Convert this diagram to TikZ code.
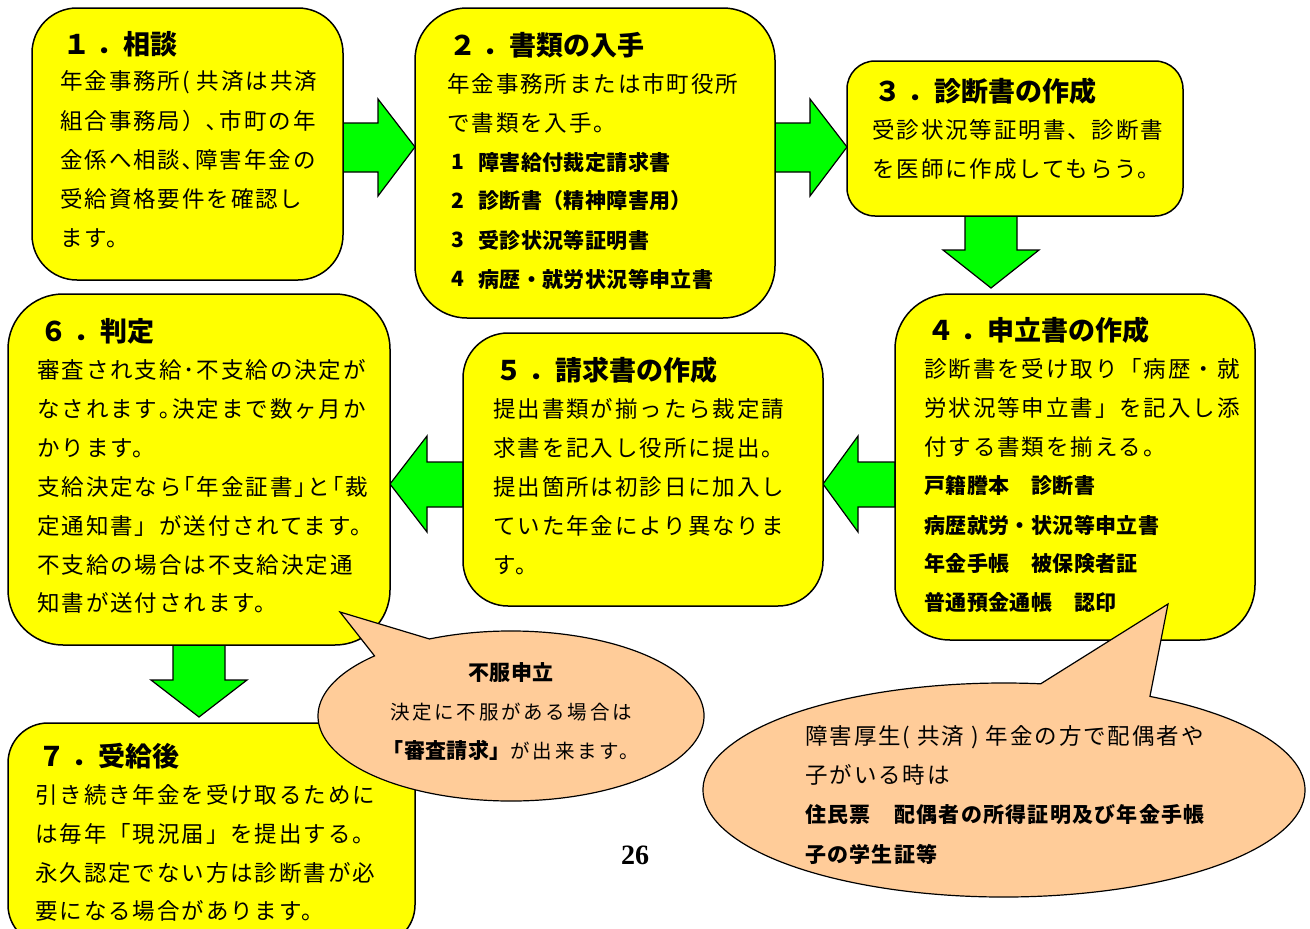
\documentclass[tikz,border=0pt]{standalone}
\usepackage{fontspec}
\usetikzlibrary{calc}
\newfontfamily\jpfam{Noto Sans CJK JP}[LetterSpace=8.5]
\newfontfamily\jpbfam{Noto Sans CJK JP}[LetterSpace=2]
\newfontfamily\jpcfam{Noto Sans CJK JP}[LetterSpace=14]
\newfontfamily\jpkfam{Noto Sans CJK JP}[LetterSpace=6]
\newfontfamily\jptfam{Noto Sans CJK JP}
\newfontfamily\numfam{Liberation Serif}
\newcommand\fbody{\jpfam\fontsize{22.5}{22.5}\selectfont}
\newcommand\fbold{\jpbfam\bfseries\fontsize{21}{21}\selectfont}
\newcommand\fboldk{\jpkfam\bfseries\fontsize{21}{21}\selectfont}
\newcommand\fcall{\jpcfam\fontsize{19.5}{19.5}\selectfont}
\newcommand\ftitle{\jptfam\bfseries\fontsize{27}{27}\selectfont}
\newcommand\dotgap{\hspace{6pt}}
\definecolor{boxyellow}{HTML}{FFFF00}
\definecolor{arrgreen}{HTML}{00FF00}
\definecolor{peach}{HTML}{FFCC99}
\tikzset{
  box/.style={draw=black, line width=1.5pt, fill=boxyellow},
  blk/.style={draw=black, line width=1.2pt, fill=arrgreen, line join=miter},
  bubble/.style={draw=black, line width=1.2pt, fill=peach},
  ttl/.style={anchor=west, inner sep=0pt, font=\ftitle},
  body/.style={anchor=west, inner sep=0pt, font=\fbody},
  bld/.style={anchor=west, inner sep=0pt, font=\fbold},
  bldk/.style={anchor=west, inner sep=0pt, font=\fboldk},
  ctr/.style={inner sep=0pt},
}
\begin{document}
\begin{tikzpicture}[x=1pt,y=-1pt]
\useasboundingbox (0,0) rectangle (1310,929);
\begin{scope}
\clip (0,0) rectangle (1310,929);
% block arrows
\draw[blk] (343,123) -- (378,123) -- (378,99) -- (415,147) -- (378,196) -- (378,172) -- (343,172) -- cycle;
\draw[blk] (775,123) -- (810,123) -- (810,99) -- (847,147) -- (810,196) -- (810,172) -- (775,172) -- cycle;
\draw[blk] (965,216) -- (965,250) -- (943,250) -- (991,288) -- (1039,250) -- (1017,250) -- (1017,216) -- cycle;
\draw[blk] (895,462) -- (858,462) -- (858,436) -- (823,484) -- (858,532) -- (858,507) -- (895,507) -- cycle;
\draw[blk] (463,462) -- (427,462) -- (427,436) -- (390,484) -- (427,532) -- (427,507) -- (463,507) -- cycle;
\draw[blk] (173,645) -- (173,680) -- (151,680) -- (199,717) -- (247,680) -- (225,680) -- (225,645) -- cycle;
% boxes
\node[box, minimum width=311pt, minimum height=272pt, rounded corners=45pt] (b1) at (187.5,144) {};
\node[box, minimum width=360pt, minimum height=310pt, rounded corners=52pt] (b2) at (595,163) {};
\node[box, minimum width=336pt, minimum height=155pt, rounded corners=28pt] (b3) at (1015,138.5) {};
\node[box, minimum width=360pt, minimum height=346pt, rounded corners=55pt] (b4) at (1075,467) {};
\node[box, minimum width=360pt, minimum height=273pt, rounded corners=45pt] (b5) at (643,469.5) {};
\node[box, minimum width=382pt, minimum height=351pt, rounded corners=55pt] (b6) at (199,469.5) {};
\node[box, minimum width=407pt, minimum height=222pt, rounded corners=40pt] (b7) at (211.5,834) {};
% box 1
\node[ttl] (t1) at (63,44) {１\dotgap．相談};
\node[body] (t1a) at (60,82) {年金事務所( 共済は共済};
\node[body] (t1b) at (60,121) {組合事務局）､市町の年};
\node[body] (t1c) at (60,160) {金係へ相談､障害年金の};
\node[body] (t1d) at (60,199) {受給資格要件を確認し};
\node[body] (t1e) at (60,238) {ます。};
% box 2
\node[ttl] (t2) at (449,45) {２\dotgap．書類の入手};
\node[body] (t2a) at (447,84) {年金事務所または市町役所};
\node[body] (t2b) at (447,123) {で書類を入手。};
\node[bld] (n2a) at (451,162) {1};
\node[bld] (t2c) at (478,162) {障害給付裁定請求書};
\node[bld] (n2b) at (451,201) {2};
\node[bld] (t2d) at (478,201) {診断書（精神障害用）};
\node[bld] (n2c) at (451,240) {3};
\node[bld] (t2e) at (478,240) {受診状況等証明書};
\node[bld] (n2d) at (451,279) {4};
\node[bld] (t2f) at (478,279) {病歴・就労状況等申立書};
% box 3
\node[ttl] (t3) at (874,91) {３\dotgap．診断書の作成};
\node[body] (t3a) at (872,130) {受診状況等証明書、診断書};
\node[body] (t3b) at (872,169) {を医師に作成してもらう。};
% box 4
\node[ttl] (t4) at (927,330) {４\dotgap．申立書の作成};
\node[body] (t4a) at (924,369) {診断書を受け取り「病歴・就};
\node[body] (t4b) at (924,408) {労状況等申立書」を記入し添};
\node[body] (t4c) at (924,447) {付する書類を揃える。};
\node[bld] (t4d) at (924,486) {戸籍謄本　診断書};
\node[bld] (t4e) at (924,525) {病歴就労・状況等申立書};
\node[bld] (t4f) at (924,564) {年金手帳　被保険者証};
\node[bld] (t4g) at (924,603) {普通預金通帳　認印};
% box 5
\node[ttl] (t5) at (495,370) {５\dotgap．請求書の作成};
\node[body] (t5a) at (493,409) {提出書類が揃ったら裁定請};
\node[body] (t5b) at (493,448) {求書を記入し役所に提出。};
\node[body] (t5c) at (493,487) {提出箇所は初診日に加入し};
\node[body] (t5d) at (493,526) {ていた年金により異なりま};
\node[body] (t5e) at (493,565) {す。};
% box 6
\node[ttl] (t6) at (40,331) {６\dotgap．判定};
\node[body] (t6a) at (37,370) {審査され支給･不支給の決定が};
\node[body] (t6b) at (37,409) {なされます｡決定まで数ヶ月か};
\node[body] (t6c) at (37,448) {かります。};
\node[body] (t6d) at (37,487) {支給決定なら｢年金証書｣と｢裁};
\node[body] (t6e) at (37,526) {定通知書」が送付されてます。};
\node[body] (t6f) at (37,565) {不支給の場合は不支給決定通};
\node[body] (t6g) at (37,603) {知書が送付されます。};
% box 7
\node[ttl] (t7) at (38,756) {７\dotgap．受給後};
\node[body] (t7a) at (35,795) {引き続き年金を受け取るために};
\node[body] (t7b) at (35,834) {は毎年「現況届」を提出する。};
\node[body] (t7c) at (35,873) {永久認定でない方は診断書が必};
\node[body] (t7d) at (35,911) {要になる場合があります。};
% callout 1
\coordinate (c1c) at (511,716);
\coordinate (c1tip) at (340,612);
\draw[bubble] (c1tip) -- ($(c1c)+(245:193 and 85)$) arc[start angle=245, end angle=585, x radius=193, y radius=85] -- cycle;
\node[ctr, font=\fbold] (c1a) at (511,673) {不服申立};
\node[ctr, font=\fcall] (c1b) at (511,712) {決定に不服がある場合は};
\node[ctr] (c1d) at (511,750) {{\fbold 「審査請求」}{\fcall が出来ます。}};
% callout 2
\coordinate (c2c) at (1004,790);
\coordinate (c2tip) at (1168,604);
\draw[bubble] (c2tip) -- ($(c2c)+(299:301 and 107)$) arc[start angle=299, end angle=637, x radius=301, y radius=107] -- cycle;
\node[body] (c2a) at (805,737) {障害厚生( 共済 ) 年金の方で配偶者や};
\node[body] (c2b) at (805,775) {子がいる時は};
\node[bldk] (c2d) at (805,815) {住民票　配偶者の所得証明及び年金手帳};
\node[bldk] (c2e) at (805,854) {子の学生証等};
% page number
\node[ctr, font=\numfam\bfseries\fontsize{28}{28}\selectfont] (pg) at (635,855) {26};
\end{scope}
\end{tikzpicture}
\end{document}
